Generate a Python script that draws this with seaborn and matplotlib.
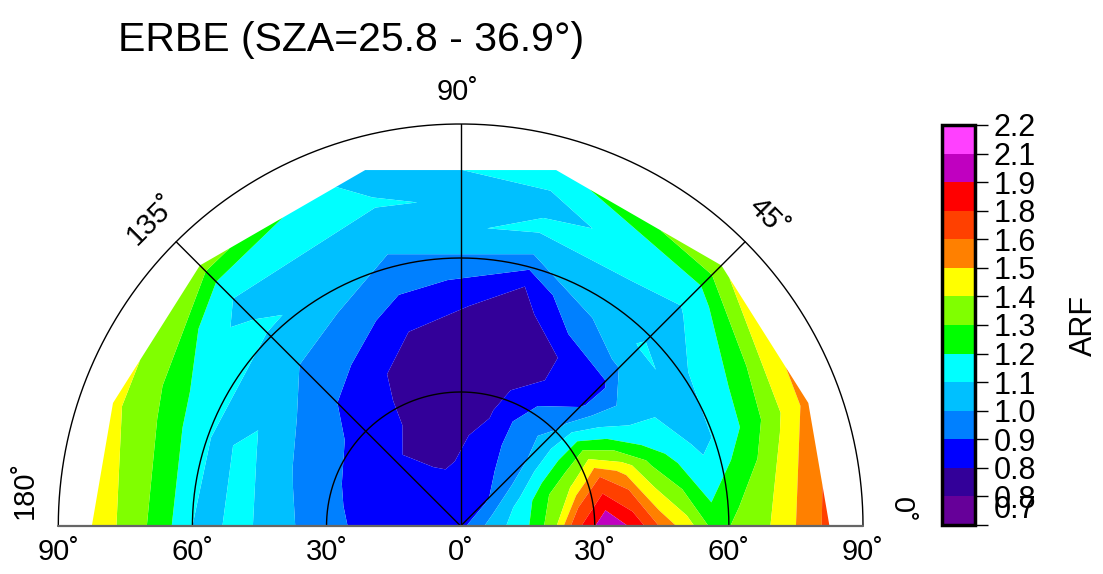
import numpy as np
import matplotlib
matplotlib.use("Agg")
import matplotlib.pyplot as plt
import seaborn as sns

# viewing zenith (radius) and relative azimuth (angle) of the grid nodes
zenith = [0, 7.5, 15, 21, 27, 33, 39, 45, 51, 57, 63, 69, 75, 82.5]
azimuth = [0, 19.5, 45, 75, 105, 135, 160.5, 180]

# ARF along each azimuth, one value per zenith above
arf_az000 = [0.88, 1.05, 1.19, 1.37, 1.75, 2.04, 1.85, 1.57, 1.44, 1.25, 1.34, 1.395, 1.50, 1.63]
arf_az019 = [0.88, 1.00, 1.15, 1.30, 1.42, 1.60, 1.45, 1.27, 1.15, 1.07, 1.14, 1.25, 1.38, 1.54]
arf_az045 = [0.88, 0.90, 0.95, 1.00, 1.03, 0.98, 0.89, 0.89, 1.02, 1.11, 1.07, 1.09, 1.17, 1.386]
arf_az075 = [0.88, 0.87, 0.86, 0.85, 0.835, 0.81, 0.79, 0.79, 0.81, 0.85, 1.00, 1.12, 1.07, 1.153]
arf_az105 = [0.88, 0.87, 0.83, 0.82, 0.81, 0.80, 0.80, 0.84, 0.88, 0.95, 1.00, 1.06, 1.11, 1.045]
arf_az135 = [0.88, 0.87, 0.86, 0.845, 0.87, 0.89, 0.91, 0.95, 1.00, 1.05, 1.12, 1.07, 1.13, 1.356]
arf_az160 = [0.88, 0.87, 0.87, 0.88, 0.90, 0.95, 0.99, 1.06, 1.13, 1.07, 1.15, 1.25, 1.35, 1.42]
arf_az180 = [0.88, 0.87, 0.875, 0.885, 0.92, 0.96, 1.02, 1.086, 1.143, 1.03, 1.17, 1.28, 1.38, 1.455]

levels = [0.70, 0.77, 0.84, 0.91, 1.00, 1.10, 1.20, 1.30, 1.40, 1.50, 1.60, 1.75, 1.90, 2.05, 2.20]
level_labels = ["0.7", "0.8", "0.8", "0.9", "1.0", "1.1", "1.2", "1.3",
                "1.4", "1.5", "1.6", "1.8", "1.9", "2.1", "2.2"]
band_colors = ["#660099", "#330099", "#0000ff", "#0080ff", "#00c0ff", "#00ffff", "#00ff00",
               "#80ff00", "#ffff00", "#ff8000", "#ff4000", "#ff0000", "#c000c0", "#ff40ff"]

sns.set_style("white")
plt.rcParams["font.family"] = ["Liberation Sans", "DejaVu Sans"]
plt.rcParams.update({"text.color": "black", "xtick.color": "black",
                     "ytick.color": "black", "axes.edgecolor": "black"})

arf = np.column_stack([arf_az000, arf_az019, arf_az045, arf_az075,
                       arf_az105, arf_az135, arf_az160, arf_az180])
zz, aa = np.meshgrid(zenith, np.deg2rad(azimuth), indexing="ij")
x = zz * np.cos(aa)
y = zz * np.sin(aa)

fig = plt.figure(figsize=(11.03, 5.74), dpi=100)
ax = fig.add_axes([58.3 / 1103, 48 / 574, 804.7 / 1103, 402 / 574])
ax.set_xlim(-90, 90)
ax.set_ylim(0, 90)
ax.axis("off")

cs = ax.contourf(x, y, arf, levels=levels, colors=band_colors, antialiased=True)

# polar frame
t = np.linspace(0, np.pi, 400)
for r in [30, 60, 90]:
    ax.plot(r * np.cos(t), r * np.sin(t), color="black", lw=1.0, clip_on=False)
for ang in [45, 90, 135]:
    a = np.deg2rad(ang)
    ax.plot([0, 90 * np.cos(a)], [0, 90 * np.sin(a)], color="black", lw=1.0)
ax.plot([-90, 90], [0, 0], color="0.4", lw=1.6, clip_on=False)

deg = "\u02da"
for v in [-90, -60, -30, 0, 30, 60, 90]:
    ax.text(v, -5.8, f"{abs(v)}{deg}", ha="center", va="center", fontsize=21, clip_on=False)
ax.text(-0.7, 97.2, "90" + deg, ha="center", va="center", fontsize=21, clip_on=False)
ax.text(68.7, 69.2, "45" + deg, ha="center", va="center", fontsize=21, rotation=-45, clip_on=False)
ax.text(-69.2, 68.5, "135" + deg, ha="center", va="center", fontsize=21, rotation=45, clip_on=False)
ax.text(-97.6, 8.0, "180" + deg, ha="center", va="center", fontsize=21, rotation=90, clip_on=False)
ax.text(98.5, 3.6, "0" + deg, ha="center", va="center", fontsize=21, rotation=-90, clip_on=False)

fig.text(118 / 1103, 1 - 51 / 574, "ERBE (SZA=25.8 - 36.9\u00b0)", fontsize=29.5,
         ha="left", va="baseline")

cax = fig.add_axes([942 / 1103, 49 / 574, 33 / 1103, 400 / 574])
cbar = fig.colorbar(cs, cax=cax, ticks=levels)
cbar.outline.set_linewidth(2.5)
cax.set_yticklabels(level_labels)
cax.tick_params(axis="y", direction="out", length=9.5, width=1.0, labelsize=22, pad=4)
labs = cax.get_yticklabels()
labs[0].set_va("bottom")
fig.text(1084 / 1103, 1 - 325 / 574, "ARF", rotation=90, fontsize=22, ha="center", va="center")

fig.savefig("out.png", dpi=100)
